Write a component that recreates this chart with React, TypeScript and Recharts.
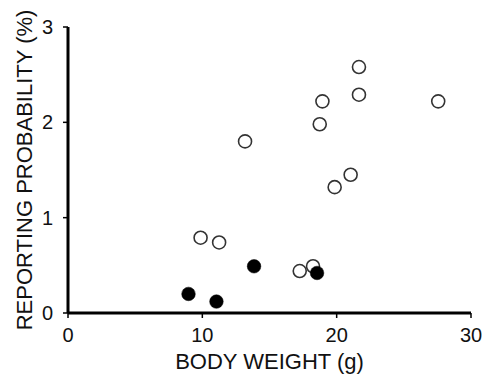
import React from 'react';
import { ScatterChart, Scatter, XAxis, YAxis } from 'recharts';

const openWeights = [21.66, 21.66, 18.94, 27.56, 18.74, 13.18, 21.04, 19.85, 9.87, 11.25, 17.25, 18.24];
const openProbs = [2.58, 2.29, 2.22, 2.22, 1.98, 1.8, 1.45, 1.32, 0.79, 0.74, 0.44, 0.49];
const filledWeights = [13.85, 18.54, 8.97, 11.05];
const filledProbs = [0.49, 0.42, 0.2, 0.12];
const xTicks = [0, 10, 20, 30];
const yTicks = [0, 1, 2, 3];
const xTitle = 'BODY WEIGHT (g)';
const yTitle = 'REPORTING PROBABILITY (%)';

const openData = openWeights.map((w, i) => ({ w, p: openProbs[i] }));
const filledData = filledWeights.map((w, i) => ({ w, p: filledProbs[i] }));

const FONT = '"Liberation Sans", Arial, Helvetica, sans-serif';

const OpenDot = (props: any) => (
  <circle cx={props.cx} cy={props.cy} r={6.5} fill="#fff" stroke="#333" strokeWidth={1.6} />
);
const FilledDot = (props: any) => (
  <circle cx={props.cx} cy={props.cy} r={6.8} fill="#000" stroke="#000" strokeWidth={0.5} />
);

const XLabel = (props: any) => {
  const vb = props.viewBox || {};
  return (
    <text x={vb.x + vb.width / 2} y={vb.y + 56} textAnchor="middle" fontSize={22} fontFamily={FONT} fill="#111">
      {xTitle}
    </text>
  );
};

const YLabel = (props: any) => {
  const vb = props.viewBox || {};
  const x = vb.x + 4;
  const y = vb.y + vb.height / 2;
  return (
    <text x={x} y={y} textAnchor="middle" fontSize={22} fontFamily={FONT} fill="#111" transform={`rotate(-90, ${x}, ${y})`}>
      {yTitle}
    </text>
  );
};

export default function App() {
  return (
    <div style={{ position: 'absolute', left: 0, top: 0, width: 484, height: 374, background: '#fff' }}>
      <ScatterChart width={484} height={374} margin={{ top: 27, right: 13, bottom: 21, left: 28 }}>
        <XAxis
          type="number"
          dataKey="w"
          domain={[0, 30]}
          ticks={xTicks}
          height={40}
          axisLine={{ stroke: '#000', strokeWidth: 3 }}
          tickLine={{ stroke: '#000', strokeWidth: 1.5 }}
          tickSize={5}
          tickMargin={10}
          tick={{ fill: '#111', fontSize: 20, fontFamily: FONT }}
          label={<XLabel />}
        />
        <YAxis
          type="number"
          dataKey="p"
          domain={[0, 3]}
          ticks={yTicks}
          width={40}
          axisLine={{ stroke: '#000', strokeWidth: 3 }}
          tickLine={{ stroke: '#000', strokeWidth: 1.5 }}
          tickSize={5}
          tickMargin={10}
          tick={{ fill: '#111', fontSize: 20, fontFamily: FONT }}
          label={<YLabel />}
        />
        <Scatter data={openData} shape={OpenDot} isAnimationActive={false} />
        <Scatter data={filledData} shape={FilledDot} isAnimationActive={false} />
      </ScatterChart>
    </div>
  );
}
